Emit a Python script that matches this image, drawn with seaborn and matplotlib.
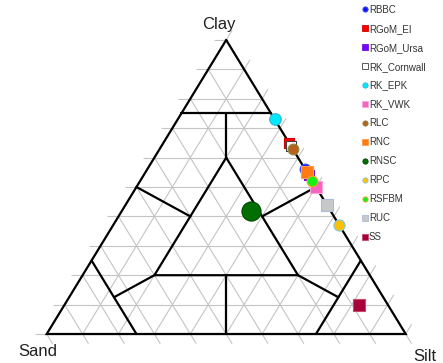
import numpy as np
import pandas as pd
import matplotlib
matplotlib.use("Agg")
import matplotlib.pyplot as plt
from matplotlib.lines import Line2D
import seaborn as sns

# Sample composition (percent clay / silt / sand)
samples = ["RBBC", "RGoM_EI", "RGoM_Ursa", "RK_Cornwall", "RK_EPK", "RK_VWK",
           "RLC", "RNC", "RNSC", "RPC", "RSFBM", "RUC", "SS"]
clay = [56, 65, 54, 64, 73, 50, 63, 55, 42, 37, 52, 44, 10]
silt = [44, 35, 46, 36, 27, 50, 37, 45, 36, 63, 48, 56, 82]
sand = [0, 0, 0, 0, 0, 0, 0, 0, 22, 0, 0, 0, 8]

corner_labels = ["Clay", "Sand", "Silt"]

# Marker style per sample: (marker, face colour, edge colour, size in pt^2)
style = {
    "RBBC":        ("o", "#1414ff", "#3a50ff", 60),
    "RGoM_EI":     ("s", "#ff0000", "#d00000", 60),
    "RGoM_Ursa":   ("s", "#7a00ff", "#6a10d8", 60),
    "RK_Cornwall": ("s", "#ffffff", "#404040", 60),
    "RK_EPK":      ("o", "#00e8ff", "#30b8d0", 70),
    "RK_VWK":      ("s", "#f464c0", "#f8a8d8", 70),
    "RLC":         ("o", "#b8601e", "#8c8c3c", 60),
    "RNC":         ("s", "#ff7a10", "#ff9a48", 70),
    "RNSC":        ("o", "#006e00", "#004800", 190),
    "RPC":         ("o", "#ffc000", "#80c8e0", 64),
    "RSFBM":       ("o", "#14f014", "#ffa030", 60),
    "RUC":         ("s", "#c8c8c8", "#a8bcd8", 74),
    "SS":          ("s", "#a8003c", "#c84868", 74),
}

# Shepard classification boundaries, each segment as (clay, silt, sand) fractions
boundaries = [
    [(1, 0, 0), (0, 0, 1), (0, 1, 0), (1, 0, 0)],
    [(0.75, 0, 0.25), (0.75, 0.25, 0)],
    [(0.75, 0.125, 0.125), (0.6, 0.2, 0.2)],
    [(0.6, 0.2, 0.2), (0.2, 0.2, 0.6), (0.2, 0.6, 0.2), (0.6, 0.2, 0.2)],
    [(0.5, 0, 0.5), (0.4, 0.2, 0.4)],
    [(0.5, 0.5, 0), (0.4, 0.4, 0.2)],
    [(0.25, 0, 0.75), (0, 0.25, 0.75)],
    [(0.25, 0.75, 0), (0, 0.75, 0.25)],
    [(0.2, 0.2, 0.6), (0.125, 0.125, 0.75)],
    [(0.2, 0.6, 0.2), (0.125, 0.75, 0.125)],
    [(0.2, 0.4, 0.4), (0, 0.5, 0.5)],
]


def to_xy(c, si, sa):
    """Ternary (clay, silt, sand) -> cartesian; sand at (0,0), silt at (1,0), clay at (0.5,1)."""
    c = np.asarray(c, float)
    si = np.asarray(si, float)
    return si + 0.5 * c, c


sns.set_style("white")
plt.rcParams["font.family"] = ["Liberation Sans", "DejaVu Sans"]

fig = plt.figure(figsize=(4.43, 3.63), dpi=100)
ax = fig.add_axes([0, 0, 1, 1])
ax.set_xlim(-0.1301, 1.1039)
ax.set_ylim(-0.0986, 1.136)
ax.axis("off")

# 10 % grid, each family extended past its own axis as a tick
t = 0.033
grid_kw = dict(color="#c4c4c4", lw=0.8, zorder=1, solid_capstyle="butt")
for k in range(11):
    f = k / 10
    x, y = to_xy([f, f], [-t, 1 - f], [1 - f + t, 0])
    ax.plot(x, y, **grid_kw)
    x, y = to_xy([0, 1 - f + t], [f, f], [1 - f, -t])
    ax.plot(x, y, **grid_kw)
    x, y = to_xy([1 - f, -t], [0, 1 - f + t], [f, f])
    ax.plot(x, y, **grid_kw)

for seg in boundaries:
    c, si, sa = zip(*seg)
    x, y = to_xy(c, si, sa)
    ax.plot(x, y, color="black", lw=1.6, zorder=2, solid_joinstyle="miter")

df = pd.DataFrame({"sample": samples, "clay": clay, "silt": silt, "sand": sand})
tot = df[["clay", "silt", "sand"]].sum(axis=1)
df["x"], df["y"] = to_xy(df["clay"] / tot, df["silt"] / tot, df["sand"] / tot)

handles = []
for i, name in enumerate(samples):
    m, fc, ec, s = style[name]
    sns.scatterplot(data=df[df["sample"] == name], x="x", y="y", ax=ax,
                    marker=m, s=s, color=fc, edgecolor=ec, linewidth=0.8,
                    zorder=3 + i, legend=False)
    handles.append(Line2D([], [], ls="none", marker=m, markersize=3.8,
                          markerfacecolor=fc, markeredgecolor=ec,
                          markeredgewidth=0.6, label=name))

ax.set_xlabel("")
ax.set_ylabel("")

ax.text(0.48, 1.036, corner_labels[0], fontsize=12, color="#222222",
        ha="center", va="baseline")
ax.text(-0.0256, -0.0748, corner_labels[1], fontsize=12, color="#222222",
        ha="center", va="baseline")
ax.text(1.0546, -0.0918, corner_labels[2], fontsize=12, color="#222222",
        ha="center", va="baseline")

fig.legend(handles=handles, loc="upper left",
           bbox_to_anchor=(362.0 / 443, 1 - 4.8 / 363),
           bbox_transform=fig.transFigure, frameon=False,
           fontsize=7, handlelength=0.6, handletextpad=0.12,
           labelspacing=0.92, borderpad=0, borderaxespad=0,
           labelcolor="#333333")

fig.savefig("out.png", dpi=100)
